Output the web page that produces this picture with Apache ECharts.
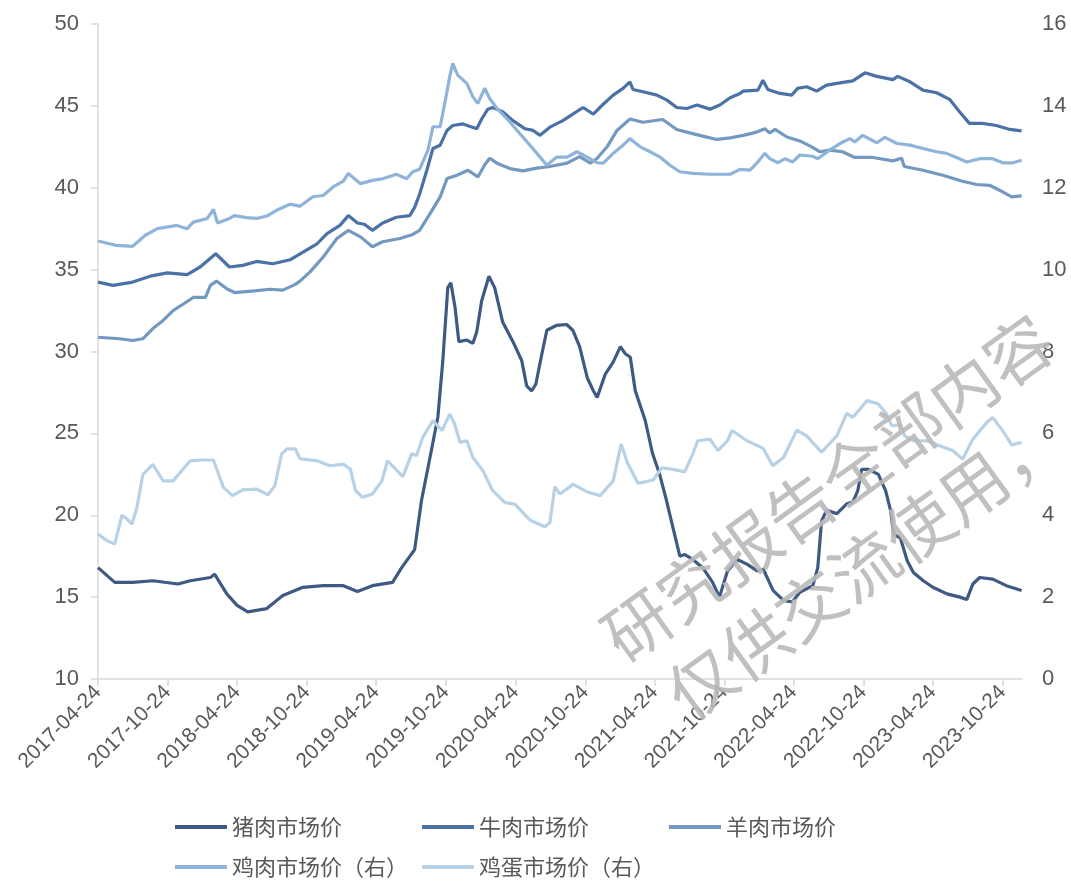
<!DOCTYPE html>
<html>
<head>
<meta charset="utf-8">
<script src="https://cdn.jsdelivr.net/npm/echarts@6/dist/echarts.min.js"></script>
<style>html,body{margin:0;padding:0;background:#fff}#c{width:1071px;height:882px}</style>
</head>
<body>
<div id="c"></div>
<script>
// ---------------- data ----------------
const categoryStart = '2017-04-24';
const categoryEnd = '2023-12-14';
const tickLabels = ['2017-04-24','2017-10-24','2018-04-24','2018-10-24','2019-04-24','2019-10-24','2020-04-24','2020-10-24','2021-04-24','2021-10-24','2022-04-24','2022-10-24','2023-04-24','2023-10-24'];
const seriesNames = ['猪肉市场价','牛肉市场价','羊肉市场价','鸡肉市场价（右）','鸡蛋市场价（右）'];

const porkData = [['2017-04-24',16.8],['2017-06-07',15.9],['2017-07-24',15.9],['2017-09-15',16.0],['2017-11-20',15.8],['2017-12-22',16.0],['2018-02-13',16.2],['2018-02-24',16.4],['2018-03-28',15.2],['2018-04-24',14.5],['2018-05-22',14.1],['2018-07-11',14.3],['2018-08-22',15.1],['2018-10-14',15.6],['2018-12-06',15.7],['2019-01-28',15.7],['2019-03-06',15.35],['2019-04-14',15.7],['2019-06-06',15.9],['2019-06-30',16.8],['2019-08-03',17.9],['2019-08-21',20.9],['2019-09-12',23.5],['2019-10-03',26.0],['2019-10-16',29.45],['2019-10-29',33.9],['2019-11-06',34.2],['2019-11-17',32.7],['2019-11-27',30.6],['2019-12-18',30.7],['2020-01-03',30.5],['2020-01-13',31.2],['2020-01-26',33.1],['2020-02-14',34.6],['2020-02-29',33.9],['2020-03-21',31.8],['2020-04-17',30.6],['2020-05-10',29.45],['2020-05-23',27.9],['2020-06-05',27.6],['2020-06-16',28.0],['2020-07-02',29.86],['2020-07-15',31.3],['2020-08-10',31.6],['2020-09-05',31.65],['2020-09-21',31.3],['2020-10-09',30.3],['2020-10-29',28.4],['2020-11-14',27.6],['2020-11-24',27.2],['2020-12-15',28.6],['2021-01-05',29.35],['2021-01-24',30.3],['2021-02-06',29.86],['2021-02-19',29.65],['2021-03-04',27.6],['2021-03-30',25.8],['2021-04-18',23.8],['2021-05-07',22.5],['2021-05-25',20.9],['2021-06-15',18.85],['2021-06-29',17.5],['2021-07-12',17.6],['2021-08-02',17.3],['2021-08-28',16.8],['2021-09-23',15.9],['2021-10-11',15.0],['2021-11-01',16.6],['2021-11-27',17.3],['2021-12-23',17.0],['2022-01-18',16.6],['2022-02-03',16.7],['2022-03-01',15.4],['2022-03-28',14.8],['2022-04-20',14.7],['2022-05-10',15.3],['2022-06-13',15.7],['2022-06-26',16.8],['2022-07-06',19.65],['2022-07-19',20.3],['2022-08-15',20.1],['2022-09-10',20.7],['2022-09-26',20.8],['2022-10-09',21.5],['2022-10-19',22.8],['2022-11-06',22.8],['2022-12-02',22.5],['2022-12-21',21.5],['2023-01-03',20.3],['2023-01-11',18.85],['2023-01-29',18.6],['2023-02-16',17.2],['2023-03-04',16.5],['2023-03-30',16.0],['2023-04-24',15.6],['2023-05-31',15.2],['2023-07-04',15.0],['2023-07-22',14.85],['2023-08-07',15.8],['2023-08-25',16.2],['2023-09-28',16.1],['2023-11-03',15.7],['2023-12-13',15.4]];

const beefData = [['2017-04-24',34.24],['2017-06-02',34.04],['2017-07-24',34.24],['2017-09-08',34.6],['2017-10-23',34.8],['2017-12-14',34.7],['2018-01-17',35.16],['2018-02-27',35.97],['2018-04-04',35.16],['2018-05-09',35.26],['2018-06-14',35.5],['2018-07-27',35.36],['2018-09-10',35.6],['2018-10-14',36.07],['2018-11-20',36.58],['2018-12-16',37.2],['2019-01-19',37.7],['2019-02-10',38.3],['2019-03-06',37.85],['2019-03-24',37.77],['2019-04-14',37.4],['2019-05-11',37.85],['2019-06-16',38.2],['2019-07-21',38.3],['2019-08-03',38.8],['2019-08-16',39.6],['2019-09-04',41.07],['2019-09-20',42.4],['2019-10-09',42.6],['2019-10-27',43.5],['2019-11-11',43.8],['2019-12-08',43.9],['2020-01-13',43.6],['2020-01-26',44.2],['2020-02-11',44.8],['2020-02-24',44.9],['2020-03-21',44.65],['2020-04-17',44.1],['2020-05-19',43.6],['2020-06-09',43.5],['2020-06-27',43.2],['2020-07-23',43.7],['2020-08-26',44.1],['2020-09-21',44.5],['2020-10-18',44.9],['2020-11-14',44.5],['2020-12-10',45.1],['2021-01-05',45.66],['2021-01-31',46.07],['2021-02-18',46.47],['2021-02-26',46.0],['2021-03-24',45.86],['2021-04-30',45.66],['2021-05-26',45.35],['2021-06-21',44.9],['2021-07-17',44.84],['2021-08-13',45.05],['2021-09-16',44.8],['2021-10-12',45.05],['2021-11-08',45.5],['2021-12-04',45.76],['2021-12-12',45.9],['2022-01-20',45.96],['2022-02-02',46.57],['2022-02-15',46.0],['2022-03-19',45.76],['2022-04-19',45.66],['2022-05-04',46.07],['2022-05-28',46.17],['2022-06-23',45.9],['2022-07-19',46.27],['2022-08-23',46.4],['2022-09-26',46.53],['2022-10-28',47.02],['2022-11-28',46.8],['2023-01-09',46.6],['2023-01-22',46.8],['2023-02-23',46.47],['2023-03-29',45.96],['2023-05-04',45.8],['2023-06-07',45.4],['2023-07-03',44.64],['2023-07-29',43.93],['2023-09-01',43.93],['2023-10-08',43.8],['2023-11-12',43.56],['2023-12-13',43.47]];

const muttonData = [['2017-04-24',30.87],['2017-06-20',30.78],['2017-07-24',30.67],['2017-08-20',30.78],['2017-09-15',31.4],['2017-10-12',31.9],['2017-11-07',32.5],['2017-12-04',32.9],['2017-12-30',33.3],['2018-01-31',33.3],['2018-02-13',34.04],['2018-03-01',34.3],['2018-03-28',33.83],['2018-04-17',33.6],['2018-06-09',33.7],['2018-07-19',33.8],['2018-08-22',33.75],['2018-09-24',34.1],['2018-10-06',34.3],['2018-11-01',34.85],['2018-12-06',35.77],['2019-01-11',36.9],['2019-02-10',37.4],['2019-03-14',37.0],['2019-04-14',36.4],['2019-05-11',36.7],['2019-06-25',36.9],['2019-07-29',37.15],['2019-08-16',37.4],['2019-09-12',38.4],['2019-10-09',39.44],['2019-10-27',40.56],['2019-11-22',40.76],['2019-12-21',41.07],['2020-01-16',40.66],['2020-02-03',41.4],['2020-02-16',41.8],['2020-03-06',41.5],['2020-04-09',41.17],['2020-05-13',41.03],['2020-06-19',41.2],['2020-07-23',41.3],['2020-09-06',41.5],['2020-10-09',41.9],['2020-11-06',41.5],['2020-11-24',41.8],['2020-12-20',42.5],['2021-01-15',43.5],['2021-02-18',44.2],['2021-03-24',44.0],['2021-05-15',44.17],['2021-06-21',43.56],['2021-07-25',43.35],['2021-08-28',43.15],['2021-10-04',42.95],['2021-11-08',43.05],['2021-12-12',43.2],['2022-01-17',43.4],['2022-02-07',43.6],['2022-02-20',43.35],['2022-03-06',43.56],['2022-04-06',43.1],['2022-05-10',42.86],['2022-06-10',42.5],['2022-07-01',42.2],['2022-07-27',42.3],['2022-08-30',42.2],['2022-10-01',41.85],['2022-11-18',41.85],['2023-01-09',41.64],['2023-02-01',41.8],['2023-02-08',41.3],['2023-03-29',41.07],['2023-05-20',40.76],['2023-07-11',40.4],['2023-08-17',40.2],['2023-09-20',40.15],['2023-10-16',39.85],['2023-11-17',39.44],['2023-12-13',39.5]];

const chickenData = [['2017-04-24',10.7],['2017-06-12',10.59],['2017-07-24',10.57],['2017-08-26',10.84],['2017-09-27',11.0],['2017-11-17',11.08],['2017-12-14',11.0],['2017-12-30',11.16],['2018-02-05',11.25],['2018-02-21',11.47],['2018-03-04',11.14],['2018-04-04',11.25],['2018-04-17',11.32],['2018-05-19',11.27],['2018-06-14',11.25],['2018-07-11',11.31],['2018-08-06',11.45],['2018-09-10',11.6],['2018-10-06',11.55],['2018-11-09',11.78],['2018-12-06',11.81],['2019-01-01',12.02],['2019-01-28',12.16],['2019-02-10',12.35],['2019-03-14',12.1],['2019-04-14',12.18],['2019-05-11',12.22],['2019-06-16',12.33],['2019-07-13',12.22],['2019-07-29',12.39],['2019-08-16',12.45],['2019-09-07',12.92],['2019-09-20',13.49],['2019-10-09',13.49],['2019-10-21',14.06],['2019-11-03',14.71],['2019-11-11',15.04],['2019-11-24',14.75],['2019-12-18',14.55],['2020-01-03',14.22],['2020-01-16',14.06],['2020-02-03',14.43],['2020-02-16',14.18],['2020-03-06',13.94],['2020-04-01',13.69],['2020-04-28',13.4],['2020-05-24',13.12],['2020-06-19',12.84],['2020-07-15',12.55],['2020-08-10',12.75],['2020-09-06',12.75],['2020-10-02',12.88],['2020-10-29',12.75],['2020-11-24',12.61],['2020-12-10',12.6],['2021-01-05',12.84],['2021-01-31',13.04],['2021-02-18',13.2],['2021-03-17',13.0],['2021-04-12',12.88],['2021-05-08',12.75],['2021-06-03',12.55],['2021-06-29',12.39],['2021-08-02',12.35],['2021-09-16',12.33],['2021-10-20',12.33],['2021-11-08',12.33],['2021-12-04',12.45],['2021-12-30',12.43],['2022-01-17',12.6],['2022-02-07',12.84],['2022-02-20',12.71],['2022-03-13',12.61],['2022-04-01',12.71],['2022-04-21',12.63],['2022-05-10',12.8],['2022-06-13',12.77],['2022-06-26',12.71],['2022-07-27',12.92],['2022-08-23',13.08],['2022-09-18',13.2],['2022-10-01',13.12],['2022-10-22',13.28],['2022-11-28',13.1],['2022-12-19',13.23],['2023-01-20',13.08],['2023-02-23',13.04],['2023-03-29',12.96],['2023-05-04',12.88],['2023-05-30',12.84],['2023-06-25',12.74],['2023-07-22',12.63],['2023-08-25',12.71],['2023-09-28',12.71],['2023-10-24',12.61],['2023-11-20',12.61],['2023-12-13',12.67]];

const eggData = [['2017-04-24',3.54],['2017-05-17',3.38],['2017-06-07',3.3],['2017-06-26',4.0],['2017-07-09',3.91],['2017-07-22',3.78],['2017-08-04',4.19],['2017-08-20',5.0],['2017-09-15',5.24],['2017-10-12',4.84],['2017-11-07',4.84],['2017-12-22',5.33],['2018-01-26',5.35],['2018-02-21',5.35],['2018-03-19',4.68],['2018-04-12',4.48],['2018-05-09',4.62],['2018-06-14',4.64],['2018-07-14',4.5],['2018-08-01',4.72],['2018-08-19',5.5],['2018-09-02',5.62],['2018-09-24',5.62],['2018-10-06',5.38],['2018-11-20',5.33],['2018-12-24',5.21],['2019-01-28',5.25],['2019-02-15',5.13],['2019-03-01',4.6],['2019-03-19',4.44],['2019-04-14',4.52],['2019-05-09',4.84],['2019-05-24',5.33],['2019-06-11',5.16],['2019-07-03',4.94],['2019-07-26',5.5],['2019-08-08',5.46],['2019-08-24',5.9],['2019-09-20',6.31],['2019-10-14',6.07],['2019-11-03',6.47],['2019-11-16',6.23],['2019-11-30',5.78],['2019-12-18',5.82],['2020-01-03',5.41],['2020-01-29',5.09],['2020-02-24',4.6],['2020-03-27',4.31],['2020-04-22',4.27],['2020-06-01',3.88],['2020-07-10',3.72],['2020-07-23',3.82],['2020-08-05',4.7],['2020-08-18',4.52],['2020-09-14',4.7],['2020-09-21',4.76],['2020-10-29',4.57],['2020-12-02',4.48],['2021-01-05',4.84],['2021-01-26',5.74],['2021-02-11',5.29],['2021-03-11',4.78],['2021-04-20',4.86],['2021-05-13',5.16],['2021-06-11',5.12],['2021-07-12',5.06],['2021-08-02',5.5],['2021-08-15',5.82],['2021-09-16',5.86],['2021-10-07',5.58],['2021-11-01',5.82],['2021-11-13',6.07],['2021-12-22',5.82],['2022-02-02',5.64],['2022-02-28',5.21],['2022-03-28',5.41],['2022-05-02',6.08],['2022-05-28',5.94],['2022-07-06',5.54],['2022-08-15',5.94],['2022-09-10',6.49],['2022-09-26',6.39],['2022-11-02',6.8],['2022-12-02',6.72],['2022-12-24',6.47],['2023-01-06',6.19],['2023-01-29',6.21],['2023-02-09',5.94],['2023-03-04',5.82],['2023-04-08',5.82],['2023-05-12',5.7],['2023-06-15',5.58],['2023-07-11',5.37],['2023-08-07',5.86],['2023-09-12',6.26],['2023-09-28',6.39],['2023-10-24',6.07],['2023-11-17',5.72],['2023-12-13',5.78]];

const watermarkLines = ['研究报告全部内容', '仅供交流使用，'];

// ---------------- chart ----------------
function buildDays(s, e) {
  const out = [];
  let t = Date.parse(s + 'T00:00:00Z');
  const end = Date.parse(e + 'T00:00:00Z');
  while (t <= end) { out.push(new Date(t).toISOString().slice(0, 10)); t += 86400000; }
  return out;
}
const days = buildDays(categoryStart, categoryEnd);
const tickSet = new Set(tickLabels);
const showTick = (idx, val) => tickSet.has(val);

const colors = ['#3E5A82', '#4A72A7', '#7399C0', '#8FB4DA', '#B7D2E7'];
const allData = [porkData, beefData, muttonData, chickenData, eggData];
const axisFont = 'Arial, "Liberation Sans", sans-serif';
const cjkFont = '"Noto Sans CJK SC", "Liberation Sans", sans-serif';

const legendLeft = [175, 422, 669, 175, 422];
const legendTop = [816, 816, 816, 856, 856];

const chart = echarts.init(document.getElementById('c'), null, { renderer: 'canvas' });
chart.setOption({
  animation: false,
  color: colors,
  grid: { left: 98, right: 49, top: 24, bottom: 203, containLabel: false },
  xAxis: {
    type: 'category',
    data: days,
    boundaryGap: false,
    axisLine: { show: true, lineStyle: { color: '#D9D9D9', width: 1.5 } },
    axisTick: { show: true, interval: showTick, length: 7, lineStyle: { color: '#D9D9D9', width: 1.5 } },
    axisLabel: { interval: showTick, rotate: 45, fontSize: 21, color: '#595959', fontFamily: axisFont, margin: 10 },
    splitLine: { show: false }
  },
  yAxis: [
    {
      type: 'value', min: 10, max: 50, interval: 5,
      axisLine: { show: true, lineStyle: { color: '#D9D9D9', width: 1.5 } },
      axisTick: { show: true, length: 7, lineStyle: { color: '#D9D9D9', width: 1.5 } },
      axisLabel: { fontSize: 22, color: '#595959', fontFamily: axisFont, margin: 19 },
      splitLine: { show: false }
    },
    {
      type: 'value', min: 0, max: 16, interval: 2,
      axisLine: { show: false },
      axisTick: { show: false },
      axisLabel: { fontSize: 22, color: '#595959', fontFamily: axisFont, margin: 20 },
      splitLine: { show: false }
    }
  ],
  legend: seriesNames.map((n, i) => ({
    data: [n], left: legendLeft[i], top: legendTop[i], padding: 0,
    icon: 'rect', itemWidth: 52, itemHeight: 4, itemGap: 0, selectedMode: false,
    textStyle: { fontSize: 22, color: '#595959', fontFamily: cjkFont }
  })),
  series: seriesNames.map((n, i) => ({
    name: n,
    type: 'line',
    yAxisIndex: i >= 3 ? 1 : 0,
    data: allData[i],
    showSymbol: false,
    symbol: 'none',
    lineStyle: { width: 3.2, color: colors[i] },
    itemStyle: { color: colors[i] },
    z: 2 + i
  })),
  graphic: [
    { type: 'text', x: 630, y: 672, rotation: 0.625, z: 100, silent: true,
      style: { text: watermarkLines[0], fontSize: 67, fontFamily: cjkFont, fill: 'rgba(185,185,185,0.9)', align: 'left', verticalAlign: 'bottom' } },
    { type: 'text', x: 694, y: 730, rotation: 0.625, z: 100, silent: true,
      style: { text: watermarkLines[1], fontSize: 67, fontFamily: cjkFont, fill: 'rgba(185,185,185,0.9)', align: 'left', verticalAlign: 'bottom' } }
  ]
});
</script>
</body>
</html>
